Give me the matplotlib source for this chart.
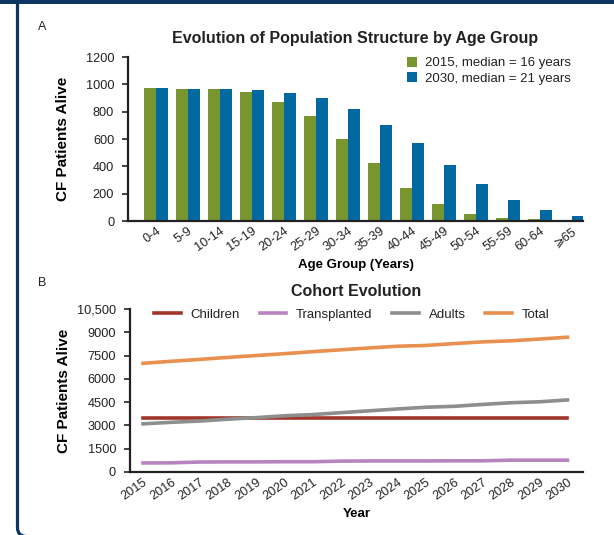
import matplotlib
matplotlib.use('Agg')
import matplotlib.pyplot as plt
import matplotlib.transforms as mtransforms
from matplotlib.patches import FancyBboxPatch, Rectangle
import numpy as np

plt.rcParams['font.family'] = ['Liberation Sans', 'DejaVu Sans']
plt.rcParams['text.color'] = '#222222'
plt.rcParams['xtick.color'] = '#222222'
plt.rcParams['ytick.color'] = '#222222'

# panel A: projected patients per age group
age_groups = ['0-4', '5-9', '10-14', '15-19', '20-24', '25-29', '30-34', '35-39',
              '40-44', '45-49', '50-54', '55-59', '60-64', '\u2a7e65']
alive_2015 = [975, 965, 965, 945, 870, 768, 600, 424, 241, 124, 51, 22, 15, 0]
alive_2030 = [975, 965, 965, 958, 937, 900, 820, 702, 571, 410, 271, 154, 80, 37]

# panel B: cohort evolution by year
years = list(range(2015, 2031))
children = [3450] * 16
transplanted = [580, 590, 640, 650, 650, 660, 660, 700, 710, 710, 710, 720, 720, 760, 760, 760]
adults = [3100, 3200, 3280, 3400, 3500, 3620, 3700, 3820, 3940, 4060, 4170, 4230, 4350, 4460, 4520, 4640]
total = [7000, 7130, 7250, 7380, 7500, 7620, 7750, 7870, 7990, 8100, 8150, 8270, 8380, 8450, 8560, 8680]
b_ticks = [0, 1500, 3000, 4500, 6000, 7500, 9000, 10500]
b_ticklabels = ['0', '1500', '3000', '4500', '6000', '7500', '9000', '10,500']

green = '#77962F'
blue = '#0069A1'

fig = plt.figure(figsize=(6.14, 5.35), dpi=100)

def style_axes(ax):
    for s in ['top', 'right']:
        ax.spines[s].set_visible(False)
    for s in ['left', 'bottom']:
        ax.spines[s].set_linewidth(1.6)
        ax.spines[s].set_color('#222222')
    ax.tick_params(axis='y', direction='out', length=4, width=1.2, labelsize=9.2, pad=6)
    ax.tick_params(axis='x', length=0, labelsize=9.2, pad=3)

# ---- A ----
ax1 = fig.add_axes([0.2085, 0.5869, 0.741, 0.3065])
x = np.arange(len(age_groups))
w = 0.375
ax1.bar(x - w / 2, alive_2015, w, color=green, label='2015, median = 16 years')
ax1.bar(x + w / 2, alive_2030, w, color=blue, label='2030, median = 21 years')
ax1.set_xlim(-0.875, 13.34)
ax1.set_ylim(0, 1200)
ax1.set_yticks(range(0, 1201, 200))
ax1.set_xticks(x)
ax1.set_xticklabels(age_groups, rotation=35, ha='right', rotation_mode='anchor')
style_axes(ax1)
ax1.set_title('Evolution of Population Structure by Age Group', fontsize=11.5,
              fontweight='bold', pad=10)
ax1.set_xlabel('Age Group (Years)', fontsize=9.5, fontweight='bold', labelpad=4)
ax1.set_ylabel('CF Patients Alive', fontsize=11, fontweight='bold', labelpad=11)
ax1.legend(loc='upper right', bbox_to_anchor=(1.0, 1.075), frameon=False, fontsize=9.5,
           handlelength=0.8, handleheight=0.8, handletextpad=0.6, labelspacing=0.2)

# ---- B ----
ax2 = fig.add_axes([0.2117, 0.1178, 0.7378, 0.3047])
ax2.plot(years, children, color='#A0352A', lw=2.6, label='Children')
ax2.plot(years, transplanted, color='#B784C0', lw=2.6, label='Transplanted')
ax2.plot(years, adults, color='#8C8F8E', lw=2.6, label='Adults')
ax2.plot(years, total, color='#E8904E', lw=2.6, label='Total')
ax2.set_xlim(2014.54, 2030.55)
ax2.set_ylim(0, 10500)
ax2.set_yticks(b_ticks)
ax2.set_yticklabels(b_ticklabels)
ax2.set_xticks(years)
ax2.set_xticklabels([str(y) for y in years], rotation=35, ha='right', rotation_mode='anchor')
style_axes(ax2)
ax2.set_title('Cohort Evolution', fontsize=11.5, fontweight='bold', pad=9)
ax2.set_xlabel('Year', fontsize=9.5, fontweight='bold', labelpad=4)
ax2.set_ylabel('CF Patients Alive', fontsize=11, fontweight='bold', labelpad=4)
ax2.legend(loc='center', bbox_to_anchor=(0.49, 0.965), ncol=4, frameon=False,
           fontsize=9.5, handlelength=2.0, columnspacing=1.5, handletextpad=0.75,
           borderpad=0)

# panel letters
fig.text(38 / 614, 1 - 27 / 535, 'A', fontsize=9, va='center', ha='left')
fig.text(38 / 614, 1 - 283 / 535, 'B', fontsize=9, va='center', ha='left')

# navy frame: full-width top band, left edge with a rounded bottom corner
px = mtransforms.IdentityTransform()
fig.patches.append(Rectangle((0, 531.5), 700, 10, transform=px, facecolor='#0D3563',
                             edgecolor='none'))
fig.patches.append(FancyBboxPatch((17.5, -1.5), 700, 600, boxstyle='round,pad=0,rounding_size=9',
                                  transform=px, facecolor='none', edgecolor='#0D3563',
                                  linewidth=2.3))

fig.savefig('out.png', dpi=100)
